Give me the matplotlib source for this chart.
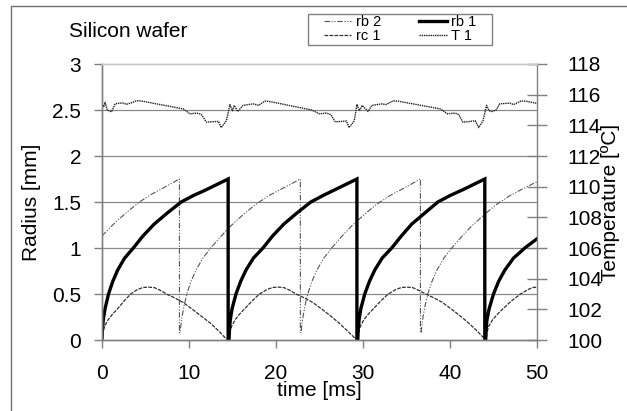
import matplotlib
matplotlib.use("Agg")
import matplotlib.pyplot as plt
from matplotlib.lines import Line2D
from matplotlib.patches import Rectangle

plt.rcParams['font.family'] = ['Liberation Sans', 'DejaVu Sans']

# ---- data -------------------------------------------------------------
# rb 1 : bubble radius 1 [mm]; each cycle grows from 0 and collapses
rb1_t = [0.0, 0.05, 0.15, 0.35, 0.75, 1.25, 1.8, 2.6, 3.6, 4.7, 6.0, 7.5, 9.1, 10.5, 11.9, 13.2, 14.5, 14.5,
         14.6, 14.65, 14.75, 14.95, 15.4, 15.95, 16.55, 17.4, 18.5, 19.6, 20.9, 22.4, 24.0, 25.4, 26.7, 28.0, 29.3, 29.3,
         29.4, 29.45, 29.55, 29.75, 30.2, 30.75, 31.35, 32.2, 33.3, 34.4, 35.6, 37.1, 38.6, 40.0, 41.4, 42.7, 44.0, 44.0,
         44.1, 44.15, 44.25, 44.5, 45.0, 45.6, 46.3, 47.3, 48.6, 50.0]
rb1_r = [0.0, 0.12, 0.22, 0.34, 0.5, 0.64, 0.76, 0.89, 1.0, 1.13, 1.26, 1.38, 1.5, 1.57, 1.63, 1.69, 1.75, 0.0,
         0.0, 0.12, 0.22, 0.34, 0.5, 0.64, 0.76, 0.89, 1.0, 1.13, 1.26, 1.38, 1.5, 1.57, 1.63, 1.69, 1.75, 0.0,
         0.0, 0.12, 0.22, 0.34, 0.5, 0.64, 0.76, 0.89, 1.0, 1.13, 1.26, 1.38, 1.5, 1.57, 1.63, 1.69, 1.75, 0.0,
         0.0, 0.12, 0.22, 0.34, 0.5, 0.64, 0.76, 0.89, 1.0, 1.1]

# rb 2 : bubble radius 2 [mm]
rb2_t = [0.0, 0.9, 1.9, 3.0, 4.3, 5.6, 7.0, 8.9, 8.9,
         9.0, 9.05, 9.2, 9.45, 9.75, 10.2, 10.8, 11.6, 12.5, 13.6, 14.8, 16.2, 17.6, 19.2, 20.8, 22.8, 22.8,
         22.9, 22.95, 23.1, 23.35, 23.65, 24.1, 24.7, 25.5, 26.4, 27.5, 28.7, 30.1, 31.5, 33.1, 34.7, 36.6, 36.6,
         36.7, 36.75, 36.9, 37.15, 37.45, 37.9, 38.5, 39.3, 40.2, 41.3, 42.5, 43.9, 45.3, 46.9, 48.5, 50.0]
rb2_r = [1.13, 1.22, 1.31, 1.4, 1.5, 1.58, 1.65, 1.75, 0.08,
         0.08, 0.15, 0.25, 0.38, 0.5, 0.63, 0.76, 0.89, 1.0, 1.12, 1.24, 1.36, 1.47, 1.57, 1.65, 1.75, 0.08,
         0.08, 0.15, 0.25, 0.38, 0.5, 0.63, 0.76, 0.89, 1.0, 1.12, 1.24, 1.36, 1.47, 1.57, 1.65, 1.75, 0.08,
         0.08, 0.15, 0.25, 0.38, 0.5, 0.63, 0.76, 0.89, 1.0, 1.12, 1.24, 1.36, 1.47, 1.57, 1.65, 1.72]

# rc 1 : contact radius [mm]
rc1_t = [0.0, 0.1, 0.3, 0.7, 1.2, 1.8, 2.5, 3.3, 4.1, 4.7, 5.3, 6.0, 6.7, 7.4, 8.3, 9.3, 10.3, 11.4, 12.5, 13.5, 14.4,
         14.6, 14.7, 14.9, 15.3, 15.8, 16.4, 17.2, 18.1, 19.0, 19.6, 20.2, 20.9, 21.6, 22.3, 23.2, 24.2, 25.2, 26.3, 27.3, 28.3, 29.3,
         29.4, 29.5, 29.7, 30.1, 30.6, 31.2, 32.0, 32.9, 33.8, 34.4, 35.0, 35.7, 36.4, 37.2, 38.1, 39.1, 40.1, 41.2, 42.2, 43.2, 44.1,
         44.15, 44.25, 44.45, 44.9, 45.45, 46.1, 47.0, 48.1, 49.0, 49.5, 50.0]
rc1_r = [0.0, 0.08, 0.15, 0.22, 0.28, 0.34, 0.42, 0.5, 0.55, 0.57, 0.575, 0.57, 0.54, 0.5, 0.46, 0.41, 0.34, 0.26, 0.18, 0.09, 0.0,
         0.0, 0.08, 0.15, 0.22, 0.28, 0.34, 0.42, 0.5, 0.55, 0.57, 0.575, 0.57, 0.54, 0.5, 0.46, 0.41, 0.34, 0.26, 0.18, 0.09, 0.0,
         0.0, 0.08, 0.15, 0.22, 0.28, 0.34, 0.42, 0.5, 0.55, 0.57, 0.575, 0.57, 0.54, 0.5, 0.46, 0.41, 0.34, 0.26, 0.18, 0.09, 0.0,
         0.0, 0.08, 0.15, 0.22, 0.28, 0.34, 0.42, 0.5, 0.55, 0.57, 0.575]

# T 1 : wafer temperature [ºC]
T1_t = [0.0, 0.2, 0.35, 0.6, 1.1, 1.5, 2.0, 2.45, 2.8, 3.3, 4.0, 4.6,
        9.35, 10.1, 10.9, 11.4, 12.0, 13.4, 13.7, 14.3,
        14.7, 15.0, 15.2, 15.6, 16.2, 17.4, 18.0, 18.7, 19.3,
        24.1, 25.0, 25.8, 26.3, 26.8, 28.1, 28.4, 29.0,
        29.3, 29.6, 29.9, 30.6, 31.0, 32.2, 32.6, 33.5, 34.1,
        38.9, 39.7, 40.6, 41.0, 41.5, 42.9, 43.3, 43.8,
        44.2, 44.5, 44.8, 45.3, 45.7, 46.9, 47.3, 48.2, 49.0, 50.0]
T1_v = [115.45, 115.2, 115.5, 115.0, 114.88, 115.4, 115.45, 115.45, 115.37, 115.45, 115.61, 115.58,
        115.07, 114.75, 114.8, 114.72, 114.21, 114.26, 113.85, 114.3,
        115.35, 114.95, 115.3, 114.9, 115.3, 115.4, 115.3, 115.58, 115.55,
        115.0, 114.75, 114.8, 114.7, 114.23, 114.28, 113.85, 114.3,
        115.35, 114.95, 115.3, 114.9, 115.3, 115.4, 115.35, 115.6, 115.57,
        115.07, 114.75, 114.8, 114.7, 114.2, 114.3, 113.85, 114.3,
        115.3, 114.95, 114.9, 115.0, 115.4, 115.45, 115.35, 115.6, 115.55, 115.43]

x_ticks = [0, 10, 20, 30, 40, 50]
r_ticks = [0, 0.5, 1, 1.5, 2, 2.5, 3]
r_tick_labels = ['0', '0.5', '1', '1.5', '2', '2.5', '3']
T_ticks = [100, 102, 104, 106, 108, 110, 112, 114, 116, 118]

# ---- figure -----------------------------------------------------------
W, H = 627, 411
fig = plt.figure(figsize=(W / 100, H / 100), dpi=100)
ax = fig.add_axes([102 / W, 1 - 340 / H, (537 - 102) / W, (340 - 64) / H])
ax2 = ax.twinx()

# outer frame (left and top edges)
fig.add_artist(Line2D([11 / W, 11 / W, 1.0], [0.0, 1 - 6 / H, 1 - 6 / H],
                      transform=fig.transFigure, color='#707070', lw=1.0))

grid_col = '#8a8a8a'
for y in r_ticks[1:-1]:
    ax.axhline(y, color=grid_col, lw=0.9, zorder=0)

l_rb2, = ax.plot(rb2_t, rb2_r, color='#555555', lw=0.8,
                 linestyle=(0, (5, 1.5, 1, 1.5, 1, 1.5)), label='rb 2')
l_rc1, = ax.plot(rc1_t, rc1_r, color='#303030', lw=0.9,
                 linestyle=(0, (3, 1)), label='rc 1')
l_rb1, = ax.plot(rb1_t, rb1_r, color='black', lw=2.4,
                 solid_joinstyle='miter', label='rb 1')
l_T1, = ax2.plot(T1_t, T1_v, color='#202020', lw=1.0,
                 linestyle=(0, (1, 0.6)), label='T 1')

ax.set_xlim(0, 50)
ax.set_ylim(0, 3)
ax2.set_ylim(100, 118)
ax.set_xticks(x_ticks)
ax.set_yticks(r_ticks)
ax.set_yticklabels(r_tick_labels)
ax2.set_yticks(T_ticks)

fs = 15
for a in (ax, ax2):
    for side in ('left', 'bottom', 'right'):
        a.spines[side].set_color('#808080')
        a.spines[side].set_linewidth(1.0)
    a.spines['top'].set_color('#c8c8c8')
    a.spines['top'].set_linewidth(1.0)
ax.spines['right'].set_visible(False)

ax.tick_params(axis='y', direction='out', length=6, width=1, color='#808080',
               labelsize=fs, pad=9)
ax.tick_params(axis='x', direction='out', length=6, width=1, color='#808080',
               labelsize=fs, pad=11)
ax2.tick_params(axis='y', which='major', direction='inout', length=14, width=1,
                color='#808080', labelsize=fs, pad=15)

ax.set_xlabel('time [ms]', fontsize=fs, labelpad=-1)
ax.set_ylabel('Radius [mm]', fontsize=fs, labelpad=8)
ax2.set_ylabel('Temperature [ºC]', fontsize=fs, labelpad=-1)

fig.text(69 / W, 1 - 37 / H, 'Silicon wafer', fontsize=fs, ha='left',
         va='baseline')

# legend: box drawn as a figure rectangle, entries centred inside it
fig.add_artist(Rectangle((308 / W, 1 - 45 / H), 184 / W, 31 / H,
                         transform=fig.transFigure, facecolor='white',
                         edgecolor='#808080', lw=1.0, zorder=5))
leg = fig.legend(handles=[l_rb2, l_rc1, l_rb1, l_T1], ncol=2,
                 loc='center', bbox_to_anchor=(400 / W, 1 - 29.5 / H),
                 fontsize=10.5, frameon=False, handlelength=1.9,
                 handletextpad=0.3, columnspacing=2.6, labelspacing=0.0,
                 borderpad=0, borderaxespad=0)
leg.set_zorder(6)

fig.savefig('out.png', dpi=100)
